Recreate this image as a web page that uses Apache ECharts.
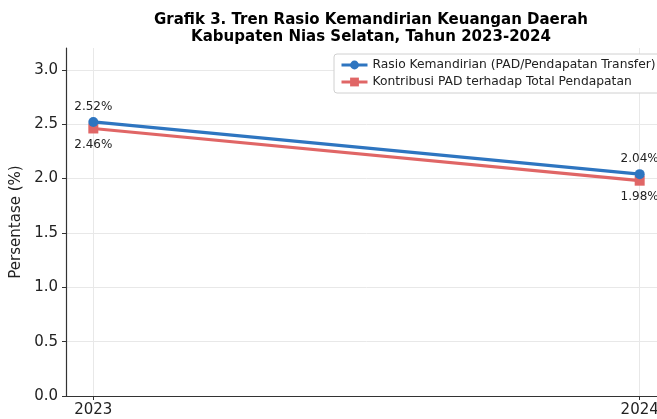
<!DOCTYPE html>
<html>
<head>
<meta charset="utf-8">
<script src="https://cdn.jsdelivr.net/npm/echarts@6/dist/echarts.min.js"></script>
<style>html,body{margin:0;padding:0;background:#fff;overflow:hidden}#c{width:667px;height:419px}</style>
</head>
<body>
<div id="c"></div>
<script>
const years = [2023, 2024];
const rasioKemandirian = [2.52, 2.04];
const kontribusiPAD = [2.46, 1.98];
const yTicks = [0, 0.5, 1.0, 1.5, 2.0, 2.5, 3.0];
const seriesNames = ['Rasio Kemandirian (PAD/Pendapatan Transfer)', 'Kontribusi PAD terhadap Total Pendapatan'];
const titleLines = ['Grafik 3. Tren Rasio Kemandirian Keuangan Daerah', 'Kabupaten Nias Selatan, Tahun 2023-2024'];

const font = 'DejaVu Sans';
const chart = echarts.init(document.getElementById('c'), null, {renderer: 'canvas'});
chart.setOption({
  animation: false,
  backgroundColor: '#fff',
  title: {
    text: titleLines.join('\n'),
    left: 366, top: 7, textAlign: 'center',
    textStyle: {fontFamily: font, fontWeight: 'bold', fontSize: 15, color: '#000', lineHeight: 17}
  },
  legend: {
    orient: 'vertical', left: 334, top: 54,
    data: seriesNames,
    itemWidth: 26, itemHeight: 11, itemGap: 5,
    lineStyle: {width: 3},
    backgroundColor: '#fff', borderColor: '#d0d0d0', borderWidth: 1, borderRadius: 3,
    padding: [5, 6, 5, 6],
    textStyle: {fontFamily: font, fontSize: 12.3, color: '#222'}
  },
  grid: {left: 66, right: 0, top: 48, bottom: 23, containLabel: false, outerBoundsMode: 'none'},
  xAxis: {
    type: 'value', min: 2022.95, max: 2024.05,
    axisLine: {show: true, lineStyle: {color: '#333', width: 1.2}},
    axisTick: {show: true, customValues: years, length: 4, lineStyle: {color: '#333'}},
    axisLabel: {customValues: years, fontFamily: font, fontSize: 15, color: '#222', margin: 7, formatter: v => String(v)},
    splitLine: {show: true, lineStyle: {color: '#e8e8e8', width: 1}}
  },
  yAxis: {
    type: 'value', min: 0, max: 3.2,
    name: 'Persentase (%)', nameLocation: 'middle', nameGap: 40,
    nameTextStyle: {fontFamily: font, fontSize: 15, color: '#222'},
    axisLine: {show: true, lineStyle: {color: '#333', width: 1.2}},
    axisTick: {show: true, customValues: yTicks, length: 4, lineStyle: {color: '#333'}},
    axisLabel: {customValues: yTicks, fontFamily: font, fontSize: 15, color: '#222', margin: 8, formatter: v => v.toFixed(1)},
    splitLine: {show: true, lineStyle: {color: '#e8e8e8', width: 1}}
  },
  series: [
    {
      name: seriesNames[0], type: 'line',
      data: years.map((y, i) => [y, rasioKemandirian[i]]),
      symbol: 'circle', symbolSize: 10,
      lineStyle: {color: '#2e75c0', width: 3.2},
      itemStyle: {color: '#2e75c0'},
      label: {show: true, position: 'top', distance: 4, formatter: p => p.value[1].toFixed(2) + '%', fontFamily: font, fontSize: 12, color: '#222'},
      z: 3
    },
    {
      name: seriesNames[1], type: 'line',
      data: years.map((y, i) => [y, kontribusiPAD[i]]),
      symbol: 'rect', symbolSize: 10,
      lineStyle: {color: '#e06666', width: 3.2},
      itemStyle: {color: '#e06666'},
      label: {show: true, position: 'bottom', distance: 5, formatter: p => p.value[1].toFixed(2) + '%', fontFamily: font, fontSize: 12, color: '#222'},
      z: 2
    }
  ]
});
</script>
</body>
</html>
